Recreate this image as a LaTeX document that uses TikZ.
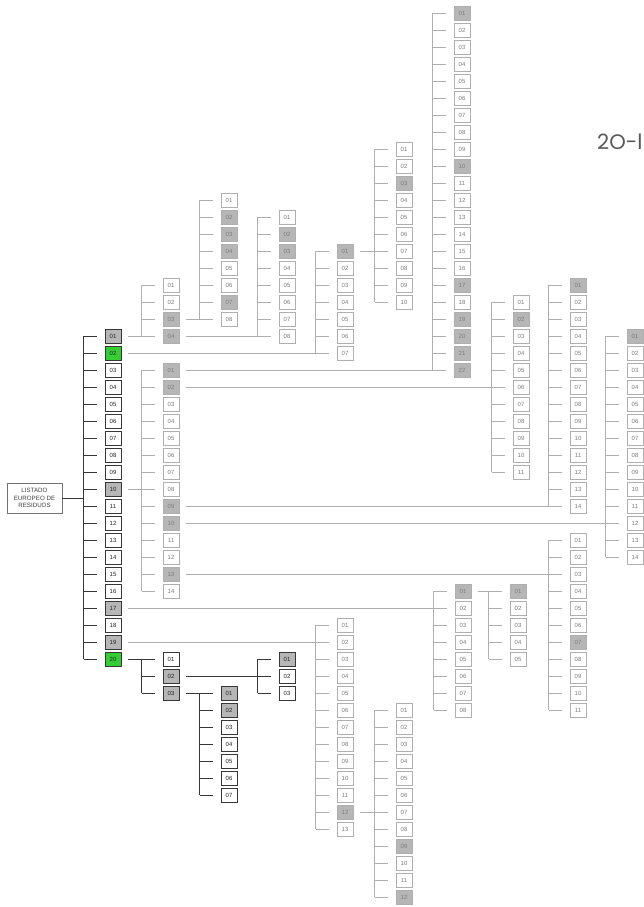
\documentclass[tikz,border=0pt]{standalone}
\usepackage{fontspec}
\setmainfont{Liberation Sans}
\newfontfamily\titlefont{Poppins}
\definecolor{boxgray}{RGB}{182,182,182}
\definecolor{boxgreen}{RGB}{52,205,52}
\definecolor{litegray}{RGB}{175,175,175}
\definecolor{txtgray}{RGB}{125,125,125}
\definecolor{darkline}{RGB}{55,55,55}
\tikzset{
  boxo/.style={draw=litegray, line width=0.8pt, minimum width=16pt, minimum height=14pt, inner sep=0pt, text=txtgray, font=\fontsize{6}{6}\selectfont},
  boxd/.style={draw=darkline, line width=0.8pt, minimum width=16pt, minimum height=14pt, inner sep=0pt, text=black!85, font=\fontsize{6}{6}\selectfont},
  lineo/.style={draw=litegray, line width=0.8pt},
  lined/.style={draw=darkline, line width=0.8pt},
  rootbox/.style={draw=black!55, line width=0.8pt, minimum width=55pt, minimum height=30pt, inner sep=0pt, align=center, text=black!75, font=\fontsize{6.2}{7.6}\selectfont},
  titletext/.style={anchor=west, inner sep=0pt, text=black!65, font=\titlefont\fontsize{21}{21}\selectfont}
}
% #1 name, #2 x, #3 first y, #4 count, #5 gray list, #6 style (o/d), #7 green list
\newcommand\drawcol[7]{%
  \foreach \i in {1,...,#4}{%
    \gdef\myfill{white}%
    \foreach \g in {#5}{\ifnum\g=\i\relax\gdef\myfill{boxgray}\fi}%
    \foreach \g in {#7}{\ifnum\g=\i\relax\gdef\myfill{boxgreen}\fi}%
    \pgfmathsetmacro\yy{#3+17*(\i-1)}%
    \edef\lab{\ifnum\i<10 0\fi\i}%
    \node[box#6, fill=\myfill] (#1\lab) at (#2,\yy) {\lab};%
    \draw[line#6] ([xshift=-21pt]#1\lab.west) -- ([xshift=-8pt]#1\lab.west);%
  }%
  \edef\last{\ifnum#4<10 0\fi#4}%
  \draw[line#6] ([xshift=-21pt]#101.west) -- ([xshift=-21pt]#1\last.west);%
}
\begin{document}
\begin{tikzpicture}[x=1pt, y=-1pt]
\fill[white] (0,0) rectangle (643,907);
\useasboundingbox (0,0) rectangle (643,907);

% root
\node[rootbox] (LER) at (34.5,498) {LISTADO\\EUROPEO DE\\RESIDUOS};
\coordinate (mt) at (84,498);
\draw[lined] (LER.east) -- (mt);

% main column
\drawcol{M}{113}{336}{20}{1,10,17,19}{d}{2,20}

% sub columns
\drawcol{A}{171}{285}{4}{3,4}{o}{0}
\drawcol{B}{229}{200}{8}{2,3,4,7}{o}{0}
\drawcol{C}{287}{217}{8}{2,3}{o}{0}
\drawcol{D}{345}{251}{7}{1}{o}{0}
\drawcol{E}{404}{149}{10}{3}{o}{0}
\drawcol{F}{171}{370}{14}{1,2,9,10,13}{o}{0}
\drawcol{G}{462}{13}{22}{1,10,17,19,20,21,22}{o}{0}
\drawcol{H}{521}{302}{11}{2}{o}{0}
\drawcol{I}{578}{285}{14}{1}{o}{0}
\drawcol{K}{635}{336}{14}{1}{o}{0}
\drawcol{J}{578}{540}{11}{7}{o}{0}
\drawcol{L}{463}{591}{8}{1}{o}{0}
\drawcol{N}{518}{591}{5}{1}{o}{0}
\drawcol{O}{345}{625}{13}{12}{o}{0}
\drawcol{Q}{404}{710}{12}{9,12}{o}{0}
\drawcol{R}{171}{659}{3}{2,3}{d}{0}
\drawcol{S}{287}{659}{3}{1}{d}{0}
\drawcol{T}{229}{693}{7}{1,2}{d}{0}

% connectors
\draw[lineo] ([xshift=7pt]M01.east) -- ([xshift=-8pt]A04.west);
\draw[lineo] ([xshift=7pt]A03.east) -- ([xshift=-8pt]B08.west);
\draw[lineo] ([xshift=7pt]A04.east) -- ([xshift=-8pt]C08.west);
\draw[lineo] ([xshift=7pt]M02.east) -- ([xshift=-8pt]D07.west);
\draw[lineo] ([xshift=7pt]D01.east) -- ([xshift=-8pt]E07.west);
\draw[lineo] ([xshift=7pt]M10.east) -- ([xshift=-8pt]F08.west);
\draw[lineo] ([xshift=7pt]F01.east) -- ([xshift=-8pt]G22.west);
\draw[lineo] ([xshift=7pt]F02.east) -- ([xshift=-8pt]H06.west);
\draw[lineo] ([xshift=7pt]F09.east) -- ([xshift=-8pt]I14.west);
\draw[lineo] ([xshift=7pt]F10.east) -- ([xshift=-8pt]K12.west);
\draw[lineo] ([xshift=7pt]F13.east) -- ([xshift=-8pt]J03.west);
\draw[lineo] ([xshift=7pt]M17.east) -- ([xshift=-8pt]L02.west);
\draw[lineo] ([xshift=7pt]L01.east) -- ([xshift=-8pt]N01.west);
\draw[lineo] ([xshift=7pt]M19.east) -- ([xshift=-8pt]O02.west);
\draw[lineo] ([xshift=7pt]O12.east) -- ([xshift=-8pt]Q07.west);
\draw[lined] ([xshift=7pt]M20.east) -- ([xshift=-8pt]R01.west);
\draw[lined] ([xshift=7pt]R02.east) -- ([xshift=-8pt]S02.west);
\draw[lined] ([xshift=7pt]R03.east) -- ([xshift=-8pt]T01.west);

% title
\node[titletext] (title) at (597,142) {2O-l};
\end{tikzpicture}
\end{document}
